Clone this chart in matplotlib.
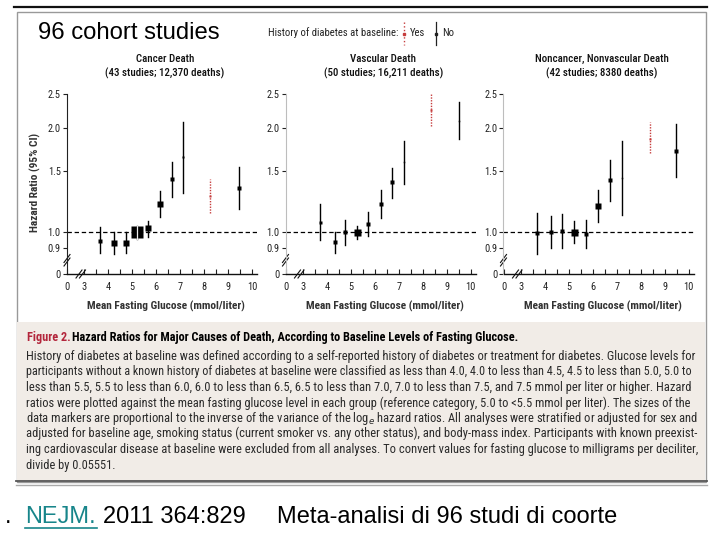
import matplotlib
matplotlib.use("Agg")
import matplotlib.pyplot as plt
from matplotlib import font_manager as fm
from matplotlib.patches import Rectangle

# ---- data (hazard ratio, 95% CI) ----
glucose_cancer = [3.65, 4.24, 4.72, 5.20, 5.67, 6.17, 6.64, 7.11, 9.46]
hr_cancer = [0.944, 0.929, 0.933, 1.000, 1.025, 1.208, 1.421, 1.646, 1.338]
lo_cancer = [0.873, 0.867, 0.871, 0.958, 0.969, 1.108, 1.266, 1.294, 1.163]
hi_cancer = [1.034, 0.998, 1.000, 1.038, 1.079, 1.315, 1.596, 2.080, 1.540]
size_cancer = [5, 5.3, 6.7, 11.5, 6.7, 6, 3.5, 2.5, 3.5]
diab_cancer = [8.22, 1.274, 1.138, 1.421]

glucose_vasc = [3.71, 4.33, 4.78, 5.25, 5.73, 6.24, 6.72, 7.21, 9.52]
hr_vasc = [1.069, 0.937, 1.000, 1.000, 1.052, 1.203, 1.393, 1.592, 2.094]
lo_vasc = [0.946, 0.873, 0.915, 0.956, 0.971, 1.100, 1.255, 1.377, 1.851]
hi_vasc = [1.208, 1.000, 1.086, 1.043, 1.140, 1.318, 1.533, 1.835, 2.373]
size_vasc = [3, 4.5, 3.5, 7, 4, 3.5, 4, 1.5, 1.5]
diab_vasc = [8.33, 2.246, 2.024, 2.50]

glucose_other = [3.69, 4.25, 4.73, 5.22, 5.72, 6.20, 6.71, 7.20, 9.49]
hr_other = [0.991, 1.000, 1.004, 1.000, 0.989, 1.192, 1.411, 1.429, 1.713]
lo_other = [0.863, 0.902, 0.902, 0.931, 0.902, 1.071, 1.227, 1.118, 1.440]
hi_other = [1.138, 1.110, 1.130, 1.074, 1.086, 1.320, 1.611, 1.827, 2.047]
size_other = [4, 5, 4, 7, 5, 5.5, 3.5, 1.5, 3.5]
diab_other = [8.38, 1.859, 1.686, 2.07]

titles = ["Cancer Death", "Vascular Death", "Noncancer, Nonvascular Death"]
subtitles = ["(43 studies; 12,370 deaths)", "(50 studies; 16,211 deaths)",
             "(42 studies; 8380 deaths)"]
x_ticks = [3, 4, 5, 6, 7, 8, 9, 10]
y_ticks = [0.9, 1.0, 1.5, 2.0, 2.5]
y_ticklabels = ["0.9", "1.0", "1.5", "2.0", "2.5"]

caption_title = "Hazard Ratios for Major Causes of Death, According to Baseline Levels of Fasting Glucose."
caption = [
    "History of diabetes at baseline was defined according to a self-reported history of diabetes or treatment for diabetes. Glucose levels for",
    "participants without a known history of diabetes at baseline were classified as less than 4.0, 4.0 to less than 4.5, 4.5 to less than 5.0, 5.0 to",
    "less than 5.5, 5.5 to less than 6.0, 6.0 to less than 6.5, 6.5 to less than 7.0, 7.0 to less than 7.5, and 7.5 mmol per liter or higher. Hazard",
    "ratios were plotted against the mean fasting glucose level in each group (reference category, 5.0 to <5.5 mmol per liter). The sizes of the",
    "data markers are proportional to the inverse of the variance of the log$_e$ hazard ratios. All analyses were stratified or adjusted for sex and",
    "adjusted for baseline age, smoking status (current smoker vs. any other status), and body-mass index. Participants with known preexist-",
    "ing cardiovascular disease at baseline were excluded from all analyses. To convert values for fasting glucose to milligrams per deciliter,",
    "divide by 0.05551.",
]

# ---- fonts ----
installed = {f.name for f in fm.fontManager.ttflist}
NARROW = next((n for n in ["Liberation Sans Narrow", "Roboto Condensed",
                           "Open Sans Condensed", "DejaVu Sans Condensed"]
               if n in installed), "DejaVu Sans")
plt.rcParams["font.family"] = [NARROW, "DejaVu Sans"]
ARIAL = ["Liberation Sans", "DejaVu Sans"]

RED = "#c63d3d"
INK = "#222222"
Y0 = 0.757   # where the "0" of the broken y axis sits
X0 = 2.28    # where the "0" of the broken x axis sits

fig = plt.figure(figsize=(7.2, 5.4), dpi=100)
renderer = fig.canvas.get_renderer()

# background axes in pixel coordinates
bg = fig.add_axes([0, 0, 1, 1])
bg.set_xlim(0, 720)
bg.set_ylim(540, 0)
bg.axis("off")


def width_of(s, size, **kw):
    t = bg.text(0, 0, s, fontsize=size, **kw)
    w = t.get_window_extent(renderer).width
    t.remove()
    return w


def fit(s, width, **kw):
    size = 10
    for _ in range(3):
        size = size * width / width_of(s, size, **kw)
    return size


# slide decoration
bg.plot([14, 707], [7, 7], color="#111111", lw=1.6)
bg.add_patch(Rectangle((16.5, 11.5), 689, 470, facecolor="white",
                       edgecolor="#999999", lw=1))
bg.add_patch(Rectangle((17, 322), 688, 158.5, facecolor="#f1ece7",
                       edgecolor="none"))
bg.plot([16, 707], [481, 481], color="#555555", lw=1.3)
bg.plot([16, 707], [484.5, 484.5], color="#aaaaaa", lw=1)

bg.text(38, 33, "96 cohort studies", family=ARIAL, fontsize=17.2,
        va="center", ha="left", color="black")

# legend
lsize = fit("History of diabetes at baseline:", 130)
bg.text(268, 33, "History of diabetes at baseline:", fontsize=lsize,
        va="center", color=INK)
bg.plot([404, 404], [22, 45], color=RED, lw=1, ls=":")
bg.plot([404], [33.5], marker="s", ms=1.8, color=RED)
bg.text(410, 33, "Yes", fontsize=lsize, va="center", color=INK)
bg.plot([436, 436], [22, 45], color=INK, lw=0.9)
bg.plot([436], [33.5], marker="s", ms=1.8, color=INK)
bg.text(442, 33, "No", fontsize=lsize, va="center", color=INK)

# ---- panels ----
panels = [
    (glucose_cancer, hr_cancer, lo_cancer, hi_cancer, size_cancer, diab_cancer),
    (glucose_vasc, hr_vasc, lo_vasc, hi_vasc, size_vasc, diab_vasc),
    (glucose_other, hr_other, lo_other, hi_other, size_other, diab_other),
]
lefts = [67, 285.5, 503.5]
spine_colors = ["#222222", "#bdbdbd", "#bdbdbd"]
tsize = fit(subtitles[0], 116)
xl_size = fit("Mean Fasting Glucose (mmol/liter)", 158, weight="bold")

for i, (gx, hr, lo, hi, sz, diab) in enumerate(panels):
    left = lefts[i]
    ax = fig.add_axes([left / 720, 1 - 274 / 540, 190 / 720, 180 / 540])
    ax.patch.set_visible(False)
    ax.set_yscale("log")
    ax.set_xlim(X0, 10.2)
    ax.set_ylim(Y0, 2.5)

    ax.axhline(1.0, color="black", lw=0.9, ls=(0, (3.5, 2.2)), zorder=1)
    for x, h, l, u, s in zip(gx, hr, lo, hi, sz):
        ax.plot([x, x], [l, u], color="black", lw=1.0, zorder=2, clip_on=False)
        ax.plot(x, h, marker="s", ms=s * 0.72, color="black", mec="none",
                zorder=3)
    if i == 0:
        # the reference square shows a pale split down its middle
        ref = gx[3]
        ax.plot([ref, ref], [lo[3] * 0.995, hi[3] * 1.005], color="#eeeeee",
                lw=0.9, zorder=4)
    ax.plot([diab[0], diab[0]], [diab[2], diab[3]], color=RED, lw=1.0,
            ls=(0, (1, 1)), zorder=2, clip_on=False)
    ax.plot(diab[0], diab[1], marker="s", ms=1.8, color=RED, mec="none",
            zorder=3)

    for sp in ["top", "right"]:
        ax.spines[sp].set_visible(False)
    ax.spines["left"].set_color(spine_colors[i])
    ax.spines["left"].set_linewidth(0.8)
    ax.spines["bottom"].set_color("#111111")
    ax.spines["bottom"].set_linewidth(1.0)

    ax.set_yticks([Y0] + y_ticks)
    ax.set_yticklabels(["0"] + y_ticklabels)
    ax.yaxis.set_minor_locator(matplotlib.ticker.NullLocator())
    ax.set_xticks([X0] + x_ticks)
    ax.set_xticklabels(["0"] + [str(t) for t in x_ticks])
    ax.set_xticks([t + 0.5 for t in x_ticks[:-1]], minor=True)
    ax.tick_params(axis="y", direction="out", length=3, width=0.8,
                   labelsize=7.5, pad=1.5, colors=INK)
    ax.tick_params(axis="x", which="both", direction="in", length=3.5,
                   width=0.8, labelsize=7.5, pad=5.5, colors=INK)

    # axis break marks
    fy = (274 - 262) / 180
    fxb = (79 - 67) / 190
    for d in (0, 3.5):
        ax.plot([-3 / 190, 3 / 190], [fy + (d - 4) / 180, fy + (d + 4) / 180],
                transform=ax.transAxes, clip_on=False, color="#111111", lw=0.8)
        ax.plot([fxb + (d - 3) / 190, fxb + (d + 3) / 190], [-4 / 180, 4 / 180],
                transform=ax.transAxes, clip_on=False, color="#111111", lw=0.8)

    cx = left + 98
    bg.text(cx, 59, titles[i], fontsize=tsize, ha="center", va="center",
            color="#111111", weight="medium")
    bg.text(cx, 73, subtitles[i], fontsize=tsize, ha="center", va="center",
            color="#111111", weight="medium")
    bg.text(left + 99, 306, "Mean Fasting Glucose (mmol/liter)",
            fontsize=xl_size, weight="bold", ha="center", va="center",
            color="#333333")

bg.text(35, 182, "Hazard Ratio (95% CI)", fontsize=xl_size, weight="bold",
        rotation=90, ha="center", va="center", color="#333333")

# ---- caption ----
title_size = fit(caption_title, 446, weight="bold")
bg.text(27, 341, "Figure 2.", fontsize=title_size, weight="bold",
        color="#b3263c", va="baseline")
bg.text(71.5, 341, caption_title, fontsize=title_size, weight="bold",
        color="black", va="baseline")

# justified body: each full line is scaled to the column width
sizes = [fit(line, 667) for line in caption[:-1]]
for k, line in enumerate(caption):
    size = sizes[k] if k < len(sizes) else sum(sizes) / len(sizes)
    bg.text(26.5, 360 + k * 15.5, line, fontsize=size, va="baseline",
            color="#2a2a2a")

# ---- slide footer ----
TEAL = "#17858a"
bg.text(5, 517, ".", family=ARIAL, fontsize=17, va="center", color="black")
bg.text(25, 517, "NEJM.", family=ARIAL, fontsize=17, va="center", color=TEAL)
bg.plot([25, 97], [528, 528], color=TEAL, lw=1.2)
bg.text(103, 517, "2011 364:829", family=ARIAL, fontsize=17, va="center",
        color="black")
bg.text(277, 517, "Meta-analisi di 96 studi di coorte", family=ARIAL,
        fontsize=17, va="center", color="black")

fig.savefig("out.png", dpi=100)
